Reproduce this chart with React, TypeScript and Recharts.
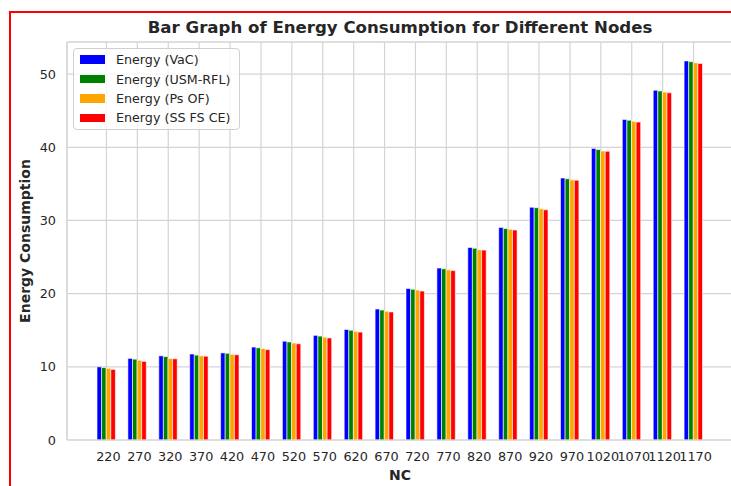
import {
  BarChart,
  Bar,
  XAxis,
  YAxis,
  CartesianGrid,
  Legend,
  ReferenceLine,
  Label,
} from "recharts";

const nodes = [
  "220", "270", "320", "370", "420", "470", "520", "570", "620", "670",
  "720", "770", "820", "870", "920", "970", "1020", "1070", "1120", "1170",
];
const vac = [10.0, 11.15, 11.5, 11.75, 11.9, 12.7, 13.5, 14.3, 15.1, 17.9, 20.7, 23.5, 26.3, 29.05, 31.8, 35.8, 39.85, 43.8, 47.8, 51.8];
const usmRfl = [9.9, 11.05, 11.4, 11.6, 11.85, 12.6, 13.4, 14.2, 15.0, 17.75, 20.6, 23.4, 26.2, 28.9, 31.75, 35.7, 39.7, 43.7, 47.7, 51.7];
const psOf = [9.8, 10.9, 11.15, 11.5, 11.7, 12.5, 13.25, 14.05, 14.85, 17.6, 20.5, 23.25, 26.0, 28.8, 31.6, 35.55, 39.5, 43.55, 47.55, 51.55];
const ssFsCe = [9.65, 10.75, 11.1, 11.45, 11.65, 12.35, 13.15, 13.95, 14.75, 17.5, 20.35, 23.15, 25.95, 28.7, 31.45, 35.5, 39.45, 43.45, 47.45, 51.45];
const yTicks = [0, 10, 20, 30, 40, 50];

// series order, as drawn and as listed in the legend
const seriesKeys = ["vac", "usm", "psof", "ssfs"];

const data = nodes.map((n, i) => ({
  nc: n,
  vac: vac[i],
  usm: usmRfl[i],
  psof: psOf[i],
  ssfs: ssFsCe[i],
}));

const yMax = Math.max(...vac) * 1.05;

const FONT = "'DejaVu Sans', sans-serif";
const TEXT = "#262626";
const GRID = "#d4d4d4";

function LegendBox({ payload }: any) {
  const items = [...(payload || [])].sort(
    (a: any, b: any) => seriesKeys.indexOf(a.dataKey) - seriesKeys.indexOf(b.dataKey)
  );
  return (
    <div
      style={{
        background: "rgba(255,255,255,0.8)",
        border: "1px solid #d0d0d0",
        borderRadius: 4,
        padding: "1px 8px 1px 6px",
        fontFamily: FONT,
        fontSize: 12.7,
        color: TEXT,
      }}
    >
      {items.map((p: any) => (
        <div
          key={p.value}
          style={{ display: "flex", alignItems: "center", height: 19.4 }}
        >
          <span
            style={{
              width: 25,
              height: 8.5,
              background: p.color,
              marginRight: 11,
              display: "inline-block",
            }}
          />
          <span>{p.value}</span>
        </div>
      ))}
    </div>
  );
}

function YLabel({ viewBox }: any) {
  const x = viewBox.x + 20;
  const y = viewBox.y + viewBox.height / 2;
  return (
    <text
      x={x}
      y={y}
      transform={`rotate(-90 ${x} ${y})`}
      textAnchor="middle"
      fontFamily={FONT}
      fontSize={14}
      fontWeight="bold"
      fill={TEXT}
    >
      Energy Consumption
    </text>
  );
}

export default function App() {
  const tick = { fill: TEXT, fontSize: 12.8, fontFamily: FONT };
  return (
    <div
      style={{
        position: "absolute",
        left: 0,
        top: 0,
        width: 731,
        height: 486,
        overflow: "hidden",
        background: "#fff",
      }}
    >
      <div
        style={{
          position: "absolute",
          left: 9,
          top: 11,
          width: 740,
          height: 500,
          border: "2px solid #ff0000",
        }}
      />
      <div
        style={{
          position: "absolute",
          left: 67,
          width: 666,
          top: 18,
          textAlign: "center",
          fontFamily: FONT,
          fontWeight: "bold",
          fontSize: 16.6,
          color: TEXT,
        }}
      >
        Bar Graph of Energy Consumption for Different Nodes
      </div>
      <div style={{ position: "absolute", left: 0, top: 0 }}>
        <BarChart
          width={740}
          height={486}
          data={data}
          margin={{ top: 42, right: 7, bottom: 16, left: 10 }}
          barGap={0}
        >
          <CartesianGrid stroke={GRID} strokeWidth={1.2} />
          <ReferenceLine y={yMax} stroke={GRID} strokeWidth={1.2} />
          <XAxis
            dataKey="nc"
            height={30}
            padding={{ left: 24, right: 24 }}
            tickSize={0}
            tickMargin={12}
            tick={{ ...tick, dx: 2 }}
            axisLine={{ stroke: GRID, strokeWidth: 1.2 }}
            interval={0}
          >
            <Label
              value="NC"
              position="bottom"
              offset={0}
              style={{ fontFamily: FONT, fontSize: 14, fontWeight: "bold", fill: TEXT }}
            />
          </XAxis>
          <YAxis
            width={57}
            domain={[0, yMax]}
            ticks={yTicks}
            allowDataOverflow
            tickSize={0}
            tickMargin={11}
            tick={tick}
            axisLine={{ stroke: GRID, strokeWidth: 1.2 }}
            label={<YLabel />}
          />
          <Legend
            layout="vertical"
            align="center"
            verticalAlign="middle"
            content={<LegendBox />}
            wrapperStyle={{ left: 73, top: 48, width: "auto" }}
          />
          <Bar dataKey="vac" name="Energy (VaC)" fill="#0000ff" stroke="#fff" strokeWidth={0.6} barSize={4.6} isAnimationActive={false} />
          <Bar dataKey="usm" name="Energy (USM-RFL)" fill="#008000" stroke="#fff" strokeWidth={0.6} barSize={4.6} isAnimationActive={false} />
          <Bar dataKey="psof" name="Energy (Ps OF)" fill="#ffa500" stroke="#fff" strokeWidth={0.6} barSize={4.6} isAnimationActive={false} />
          <Bar dataKey="ssfs" name="Energy (SS FS CE)" fill="#ff0000" stroke="#fff" strokeWidth={0.6} barSize={4.6} isAnimationActive={false} />
        </BarChart>
      </div>
    </div>
  );
}
